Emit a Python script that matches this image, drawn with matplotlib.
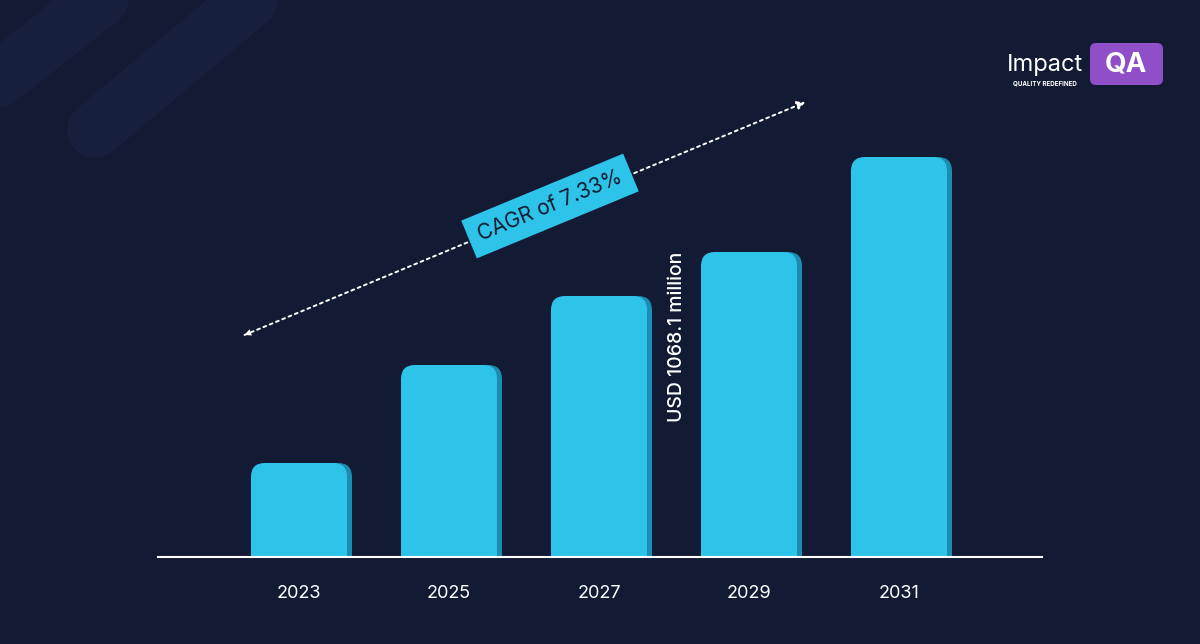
import matplotlib
matplotlib.use("Agg")
import matplotlib.pyplot as plt
from matplotlib.patches import FancyBboxPatch

years = ["2023", "2025", "2027", "2029", "2031"]
values = [94, 192, 261, 305, 400]  # relative bar heights (index units)
cagr_label = "CAGR of 7.33%"
value_label = "USD 1068.1 million"

bg = "#131a33"
bar_color = "#2ec4ea"
shade_color = "#1a8db0"

fig = plt.figure(figsize=(12, 6.44), dpi=100, facecolor=bg)

# full-figure overlay in pixel coords (decoration, arrow, logo)
over = fig.add_axes([0, 0, 1, 1], zorder=0)
over.set_xlim(0, 1200)
over.set_ylim(644, 0)
over.axis("off")
over.set_facecolor(bg)
for (x0, y0, x1, y1) in [(-40, 110, 150, -40), (95, 130, 250, 0)]:
    over.plot([x0, x1], [y0, y1], color="#18213f", lw=40, solid_capstyle="round", alpha=0.8, zorder=0)

# main bar axes: 1 data unit = 1 pixel
ax = fig.add_axes([158 / 1200, (644 - 557) / 644, 884 / 1200, 557 / 644], zorder=1)
ax.set_xlim(158, 1042)
ax.set_ylim(0, 557)
ax.patch.set_alpha(0)
for s in ["top", "right", "left"]:
    ax.spines[s].set_visible(False)
ax.spines["bottom"].set_color("white")
ax.spines["bottom"].set_linewidth(1.5)
ax.set_yticks([])

w = 96
centers = [299 + 150 * i for i in range(len(years))]
for c, v in zip(centers, values):
    ax.add_patch(FancyBboxPatch((c - w / 2 + 5, -20), w, v + 20,
                                boxstyle="round,pad=0,rounding_size=14",
                                fc=shade_color, ec="none", clip_on=True))
    ax.add_patch(FancyBboxPatch((c - w / 2, -20), w, v + 20,
                                boxstyle="round,pad=0,rounding_size=14",
                                fc=bar_color, ec="none", clip_on=True))
ax.set_xticks(centers)
ax.set_xticklabels(years, color="white", fontsize=13, fontfamily="Inter")
ax.tick_params(axis="x", length=0, pad=20)

ax.text(centers[3] - 72, values[3], value_label, rotation=90, color="white",
        fontsize=14, fontfamily="Inter", fontweight="medium", ha="center", va="top")

# CAGR arrow
over.annotate("", xy=(808, 101), xytext=(242, 336),
              arrowprops=dict(arrowstyle="-|>", color="white", lw=1.4, ls=(0, (1.5, 2)),
                              mutation_scale=12))
over.annotate("", xy=(242, 336), xytext=(300, 312),
              arrowprops=dict(arrowstyle="-|>", color="white", lw=0, mutation_scale=12))
over.text(550, 206, cagr_label, rotation=22.5, rotation_mode="anchor", ha="center", va="center",
          color="#131a33", fontsize=15, fontfamily="Inter",
          bbox=dict(boxstyle="square,pad=0.5", fc=bar_color, ec="none"))

# logo
over.text(1045, 65, "Impact", color="white", fontsize=17, fontfamily="Inter", ha="center", va="center")
over.text(1045, 83, "QUALITY REDEFINED", color="white", fontsize=4.5, fontfamily="Inter",
          fontweight="bold", ha="center", va="center")
over.add_patch(FancyBboxPatch((1090, 43), 73, 42, boxstyle="round,pad=0,rounding_size=6",
                              fc="#8e4fc9", ec="none"))
over.text(1126, 64, "QA", color="white", fontsize=20, fontfamily="Inter", fontweight="bold",
          ha="center", va="center")

fig.savefig("out.png", dpi=100, facecolor=bg)
